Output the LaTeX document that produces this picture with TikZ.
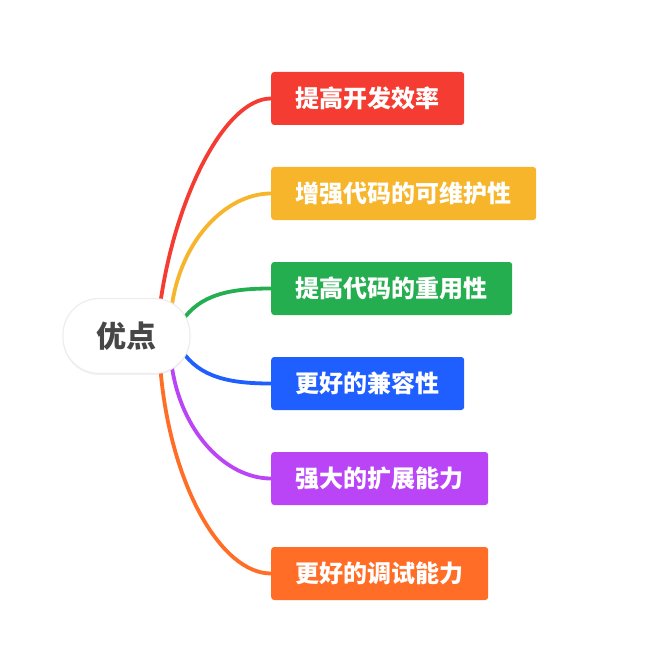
\documentclass[tikz,border=0pt]{standalone}
\usepackage{fontspec}
\setmainfont{Noto Sans CJK SC}
\usetikzlibrary{calc, shadows, backgrounds}
\definecolor{redbox}{HTML}{F43C32}
\definecolor{yellowbox}{HTML}{F6B52A}
\definecolor{greenbox}{HTML}{25AE4F}
\definecolor{bluebox}{HTML}{1F5EFF}
\definecolor{purplebox}{HTML}{BA45F7}
\definecolor{orangebox}{HTML}{FF6D26}
\begin{document}
\begin{tikzpicture}[x=1pt, y=-1pt,
  rootnode/.style={rectangle, rounded corners=36pt, fill=white, draw=black!7, line width=1.2pt, minimum width=127pt, minimum height=75pt, font=\bfseries\fontsize{30}{34}\selectfont, text=black!72, drop shadow={opacity=0.10, shadow xshift=0pt, shadow yshift=-1.5pt}},
  leaf/.style={rectangle, rounded corners=3pt, anchor=west, minimum height=53pt, inner xsep=24.5pt, font=\bfseries\fontsize{24}{27}\selectfont, text=white},
  link/.style={line width=3.8pt, line cap=round}
]
\useasboundingbox (0,0) rectangle (660,660);
\node[rootnode] (root) at (126.5,336) {优点};
\node[leaf, fill=redbox] (efficiency) at (271,98.5) {提高开发效率};
\node[leaf, fill=yellowbox] (maintain) at (271,193.5) {增强代码的可维护性};
\node[leaf, fill=greenbox] (reuse) at (271,288.5) {提高代码的重用性};
\node[leaf, fill=bluebox] (compat) at (271,383.5) {更好的兼容性};
\node[leaf, fill=purplebox] (extend) at (271,478.5) {强大的扩展能力};
\node[leaf, fill=orangebox] (debug) at (271,573.5) {更好的调试能力};
\begin{scope}[on background layer]
\foreach \b/\c/\sx/\sy/\ax/\ay/\bx in {
  efficiency/redbox/34/-34/15/-105/-46,
  maintain/yellowbox/45/-28/9/-68/-45,
  reuse/greenbox/55/-14/18/-28/-40,
  compat/bluebox/55/14/18/28/-40,
  extend/purplebox/45/28/9/68/-45,
  debug/orangebox/34/34/10/115/-50}
  \draw[link, \c] ($(root.center)+(\sx,\sy)$) .. controls +(\ax,\ay) and +(\bx,0) .. (\b.west);
\end{scope}
\end{tikzpicture}
\end{document}
